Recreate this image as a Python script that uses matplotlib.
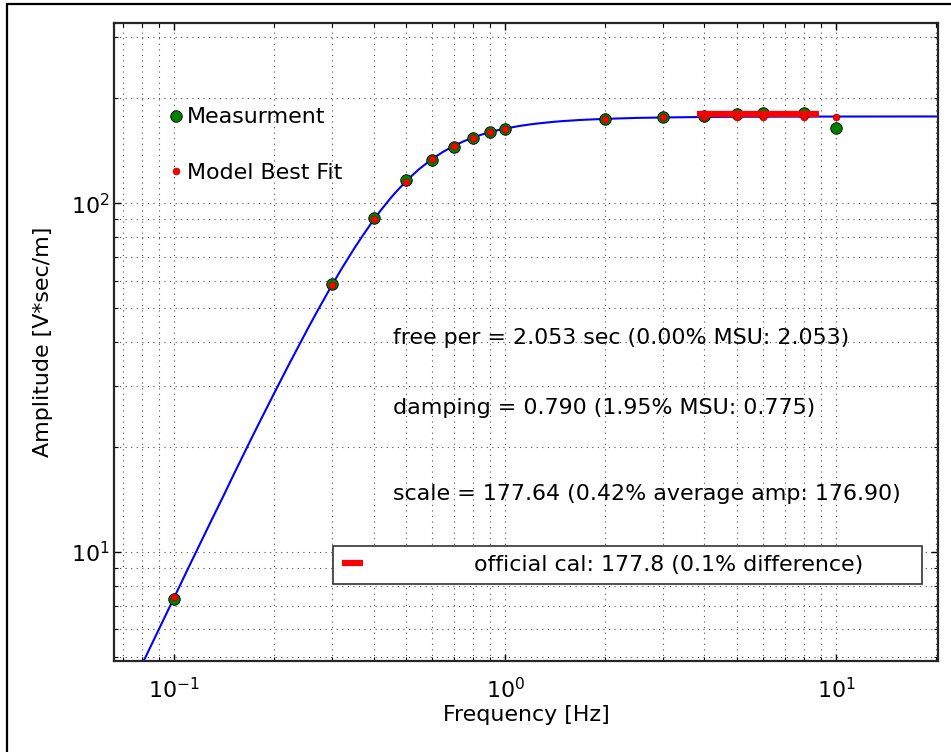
import numpy as np
import matplotlib
matplotlib.use("Agg")
import matplotlib.pyplot as plt
from matplotlib.patches import Rectangle

plt.rcParams['font.family'] = ['DejaVu Sans']
plt.rcParams['mathtext.fontset'] = 'dejavusans'
plt.rcParams['mathtext.default'] = 'regular'

# measured / fitted points
freq = [0.1, 0.3, 0.4, 0.5, 0.6, 0.7, 0.8, 0.9, 1.0, 2, 3, 4, 5, 6, 8, 10]
meas = [7.3, 58.5, 91.0, 116.5, 133.0, 145.0, 154.5, 160.0, 164.0,
        174.6, 176.6, 178.6, 180.4, 182.0, 181.2, 164.2]
model = [7.4, 58.4, 90.0, 115.3, 133.9, 146.3, 154.5, 160.1, 163.9,
         174.8, 176.4, 177.0, 177.2, 177.4, 177.5, 177.5]

# best fit curve
curve_f = [0.075, 0.08, 0.09, 0.1, 0.11, 0.12, 0.13, 0.14, 0.15, 0.17, 0.18,
           0.2, 0.22, 0.25, 0.27, 0.3, 0.32, 0.35, 0.37, 0.4, 0.42, 0.45,
           0.47, 0.5, 0.52, 0.55, 0.6, 0.65, 0.7, 0.75, 0.8, 0.85, 0.9, 0.95,
           1.0, 1.1, 1.2, 1.25, 1.4, 1.5, 1.7, 2, 2.5, 3, 4, 5, 7, 10, 20]
curve_a = [4.19, 4.76, 6.01, 7.40, 8.94, 10.6, 12.4, 14.3, 16.4, 20.9, 23.3,
           28.4, 33.9, 42.7, 48.9, 58.4, 64.8, 74.3, 80.5, 89.6, 95.3, 103.4,
           108.4, 115.3, 119.6, 125.5, 133.9, 140.7, 146.3, 150.8, 154.5,
           157.6, 160.1, 162.2, 163.9, 166.7, 168.7, 169.5, 171.4, 172.3,
           173.6, 174.8, 175.9, 176.4, 177.0, 177.2, 177.4, 177.5, 177.6]

# official calibration bar
cal_f = [3.8, 8.85]
cal_a = [181.0, 181.0]

fs = 15.9

fig = plt.figure(figsize=(9.51, 7.52), dpi=100)
ax = fig.add_axes([0.1202, 0.1215, 0.8661, 0.8483])

ax.plot(curve_f, curve_a, color='b', lw=1.5, zorder=2)
cal_line, = ax.plot(cal_f, cal_a, color='r', lw=4.5, solid_capstyle='butt', zorder=4)
m1, = ax.plot(freq, meas, 'o', color='g', mec='k', mew=0.6, ms=8.3, label='Measurment', zorder=3)
m2, = ax.plot(freq, model, 'o', color='r', mec='#900000', mew=0.4, ms=5, label='Model Best Fit', zorder=5)

ax.set_xscale('log')
ax.set_yscale('log')
ax.set_xlim(0.0659, 20.3)
ax.set_ylim(4.87, 330)

ax.grid(True, which='both', color='0.3', linestyle=(0, (1, 4)), lw=0.8)
ax.tick_params(which='both', direction='in', top=True, right=True, labelsize=fs)
ax.tick_params(axis='x', which='both', pad=12)
ax.tick_params(which='major', length=5, width=1)
ax.tick_params(which='minor', length=3, width=0.8)
for s in ax.spines.values():
    s.set_linewidth(1.6)
    s.set_color('0.15')

ax.set_xlabel('Frequency [Hz]', fontsize=fs, labelpad=2)
ax.set_ylabel('Amplitude [V*sec/m]', fontsize=fs, labelpad=12.5)

ax.text(0.3384, 0.5058, 'free per = 2.053 sec (0.00% MSU: 2.053)', transform=ax.transAxes,
        fontsize=fs, va='center')
ax.text(0.3384, 0.396, 'damping = 0.790 (1.95% MSU: 0.775)', transform=ax.transAxes,
        fontsize=fs, va='center')
ax.text(0.3384, 0.2613, 'scale = 177.64 (0.42% average amp: 176.90)', transform=ax.transAxes,
        fontsize=fs, va='center')

leg1 = ax.legend(handles=[m1, m2], loc='upper left', bbox_to_anchor=(0.053, 0.881),
                 borderaxespad=0, frameon=False, numpoints=1, fontsize=fs,
                 handlelength=0.8, handletextpad=0.1, labelspacing=1.6)
ax.add_artist(leg1)

ax.legend(handles=[cal_line], labels=[' ' * 14 + 'official cal: 177.8 (0.1% difference)'],
          loc='lower left', bbox_to_anchor=(0.2655, 0.1202, 0.715, 0.05), mode='expand',
          borderaxespad=0, fontsize=fs, handlelength=0.95, handletextpad=0.6,
          fancybox=False, framealpha=1, edgecolor='0.2')
ax.get_legend().get_frame().set_linewidth(1.2)

# outer frame of the original figure
fig.patches.append(Rectangle((7 / 951, -0.1), 1.2, 1.1 - 4 / 752, transform=fig.transFigure,
                             fill=False, edgecolor='k', lw=1.6, clip_on=False))

fig.savefig('out.png', dpi=100)
